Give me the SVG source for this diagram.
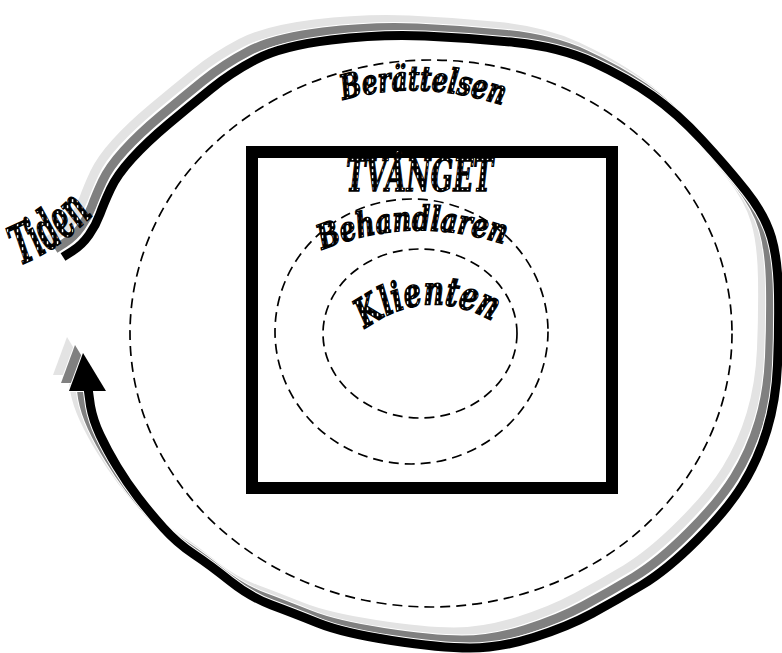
<svg xmlns="http://www.w3.org/2000/svg" width="782" height="653" viewBox="0 0 782 653">
<defs>
<pattern id="dots" width="5" height="6" patternUnits="userSpaceOnUse">
<rect width="5" height="6" fill="#000"/>
<rect x="1.8" y="1.2" width="1.5" height="3" fill="#fff"/>
</pattern>
<path id="spiralPath" d="M 63,257 L 72.5,251 Q 82,245 89,235 Q 96,225 100,214 Q 104,203 110.5,189 Q 117,175 132,158.5 Q 147,142 168.5,124 Q 190,106 211,89 Q 232,72 257,59 Q 282,46 331,40 Q 380,34 425,36 Q 470,38 515,42.5 Q 560,47 593.5,62.5 Q 627,78 652,95.5 Q 677,113 702,140 Q 727,167 746,191 Q 765,215 771.5,237.5 Q 778,260 778.5,295 Q 779,330 777.5,365 Q 776,400 767,430 Q 758,460 742.5,485 Q 727,510 697,540 Q 667,570 642,585 Q 617,600 592,613.5 Q 567,627 533.5,637.5 Q 500,648 470,648 Q 440,648 391.5,640.5 Q 343,633 318,623 Q 293,613 271.5,605 Q 250,597 230,581 Q 210,565 193.5,554 Q 177,543 163.5,528 Q 150,513 138.5,498 Q 127,483 117,466.5 Q 107,450 100,435 Q 93,420 90.5,406 L 88,388"/>
<polygon id="spiralHead" points="83,353 69,391 106,391"/>
<path id="arcBer" d="M 343,100 Q 420,78 505,106"/>
<path id="arcBeh" d="M 322,250 Q 410,214 503,244"/>
<path id="arcKli" d="M 365,329 Q 428,283 496,323"/>
<path id="arcTid" d="M 20,265 Q 60,250 100,208"/>
</defs>
<style>
.ring{fill:none;stroke:#000;stroke-width:1.7;stroke-dasharray:10 6}
.wa{font-family:"DejaVu Serif","Liberation Serif",serif;font-weight:bold;font-style:italic;fill:url(#dots);stroke:#000;stroke-width:1.4;paint-order:fill}
.sp{fill:none;stroke-width:9;stroke-linejoin:round}
.halo{fill:none;stroke:#fff;stroke-width:11;stroke-linejoin:round}
</style>
<rect width="782" height="653" fill="#fff"/>

<g id="connectors">
<g id="time-arrow">
<g transform="translate(-16,-16)">
<use href="#spiralPath" class="sp" stroke="#e3e3e3"/>
<use href="#spiralHead" fill="#e3e3e3"/>
</g>
<g transform="translate(-8,-8)">
<use href="#spiralPath" class="halo"/>
<use href="#spiralHead" fill="#fff" stroke="#fff" stroke-width="2"/>
<use href="#spiralPath" class="sp" stroke="#808080"/>
<use href="#spiralHead" fill="#808080"/>
</g>
<use href="#spiralPath" class="halo"/>
<use href="#spiralHead" fill="#fff" stroke="#fff" stroke-width="2"/>
<use href="#spiralPath" class="sp" stroke="#000"/>
<use href="#spiralHead" fill="#000"/>
</g>
</g>

<g id="berattelsen">
<ellipse class="ring" cx="431" cy="333.5" rx="301" ry="273.5" stroke-width="1.5"/>
<text class="wa" font-size="34"><textPath href="#arcBer" textLength="162" lengthAdjust="spacingAndGlyphs">Berättelsen</textPath></text>
</g>

<g id="tvanget">
<rect x="252" y="152" width="360" height="336" fill="none" stroke="#000" stroke-width="12"/>
<text class="wa" x="346" y="191" font-size="44" textLength="147" lengthAdjust="spacingAndGlyphs">TVÅNGET</text>
</g>

<g id="behandlaren">
<ellipse class="ring" cx="411.5" cy="331.5" rx="136.5" ry="132.5"/>
<text class="wa" font-size="34"><textPath href="#arcBeh" textLength="186" lengthAdjust="spacingAndGlyphs">Behandlaren</textPath></text>
</g>

<g id="klienten">
<ellipse class="ring" cx="420" cy="333.5" rx="97" ry="84.5"/>
<text class="wa" font-size="40"><textPath href="#arcKli" textLength="136" lengthAdjust="spacingAndGlyphs">Klienten</textPath></text>
</g>

<g id="tiden">
<text class="wa" font-size="54"><textPath href="#arcTid" textLength="90" lengthAdjust="spacingAndGlyphs">Tiden</textPath></text>
</g>
</svg>
